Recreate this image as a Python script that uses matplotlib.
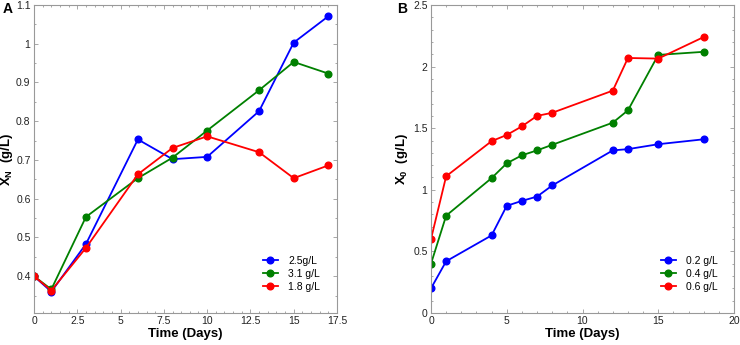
import matplotlib
matplotlib.use("Agg")
import matplotlib.pyplot as plt
from matplotlib.ticker import MultipleLocator, FuncFormatter

plt.rcParams['font.family'] = ['Liberation Sans', 'DejaVu Sans']
plt.rcParams['mathtext.fontset'] = 'custom'
plt.rcParams['mathtext.rm'] = 'Liberation Sans'
plt.rcParams['mathtext.bf'] = 'Liberation Sans:bold'

# Panel A
days_a = [0, 1, 3, 6, 8, 10, 13, 15, 17]
xn_25 = [0.400, 0.360, 0.483, 0.753, 0.702, 0.708, 0.826, 1.003, 1.071]
xn_31 = [0.400, 0.366, 0.553, 0.653, 0.706, 0.776, 0.880, 0.953, 0.923]
xn_18 = [0.400, 0.363, 0.473, 0.663, 0.731, 0.761, 0.720, 0.653, 0.686]
labels_a = ['2.5g/L', '3.1 g/L', '1.8 g/L']

# Panel B
days_b = [0, 1, 4, 5, 6, 7, 8, 12, 13, 15, 18]
x0_02 = [0.20, 0.42, 0.63, 0.87, 0.91, 0.945, 1.035, 1.32, 1.33, 1.37, 1.41]
x0_04 = [0.40, 0.79, 1.095, 1.215, 1.28, 1.32, 1.365, 1.545, 1.645, 2.095, 2.12]
x0_06 = [0.60, 1.11, 1.395, 1.445, 1.515, 1.60, 1.625, 1.805, 2.07, 2.065, 2.24]
labels_b = ['0.2 g/L', '0.4 g/L', '0.6 g/L']

colors = ['#0000ff', '#008000', '#ff0000']

fig = plt.figure(figsize=(7.4, 3.45), dpi=100)
W, H = 740, 345
axA = fig.add_axes([34 / W, 1 - 313 / H, (337 - 34) / W, (313 - 5) / H])
axB = fig.add_axes([431 / W, 1 - 313 / H, (734 - 431) / W, (313 - 5) / H])

def fmt(v, pos):
    s = ('%.2f' % v).rstrip('0').rstrip('.')
    return s

for ax, x, ys, labs, lx, ylx in [(axA, days_a, [xn_25, xn_31, xn_18], labels_a, 0.756, -0.088),
                                 (axB, days_b, [x0_02, x0_04, x0_06], labels_b, 0.759, -0.095)]:
    for y, c, l in zip(ys, colors, labs):
        ax.plot(x, y, '-o', color=c, lw=1.3, ms=4.8, label=l)
    for s in ax.spines.values():
        s.set_color('#999999')
        s.set_linewidth(0.8)
    ax.tick_params(which='both', direction='in', top=True, right=True,
                   colors='#999999', labelcolor='#222222', labelsize=7.5, width=0.6)
    ax.tick_params(which='major', length=3, pad=2.5)
    ax.tick_params(which='minor', length=1.5)
    ax.yaxis.set_major_formatter(FuncFormatter(fmt))
    ax.xaxis.set_major_formatter(FuncFormatter(fmt))
    ax.set_xlabel('Time (Days)', fontsize=9.5, fontweight='bold', labelpad=1)
    ax.legend(loc='center left', frameon=False, fontsize=7.5, handlelength=1.4,
              handletextpad=1.0, labelspacing=0.3, borderpad=0, borderaxespad=0,
              bbox_to_anchor=(lx, 0.127))
    ax.yaxis.set_label_coords(ylx, 0.5)

axA.set_xlim(0, 17.5)
axA.set_ylim(0.305, 1.1)
axA.xaxis.set_major_locator(MultipleLocator(2.5))
axA.xaxis.set_minor_locator(MultipleLocator(0.5))
axA.yaxis.set_major_locator(MultipleLocator(0.1))
axA.yaxis.set_minor_locator(MultipleLocator(0.05))
axA.set_ylabel(r'$\mathbf{X_N}$  (g/L)', fontsize=9.5, fontweight='bold', va='center')

axB.set_xlim(0, 20)
axB.set_ylim(0, 2.5)
axB.xaxis.set_major_locator(MultipleLocator(5))
axB.xaxis.set_minor_locator(MultipleLocator(1))
axB.yaxis.set_major_locator(MultipleLocator(0.5))
axB.yaxis.set_minor_locator(MultipleLocator(0.1))
axB.set_ylabel(r'$\mathbf{X_0}$  (g/L)', fontsize=9.5, fontweight='bold', va='center')

fig.text(3 / W, 1 - 9 / H, 'A', fontsize=10, fontweight='bold', va='center')
fig.text(397 / W, 1 - 9 / H, 'B', fontsize=10, fontweight='bold', va='center')

fig.savefig('out.png', dpi=100)
